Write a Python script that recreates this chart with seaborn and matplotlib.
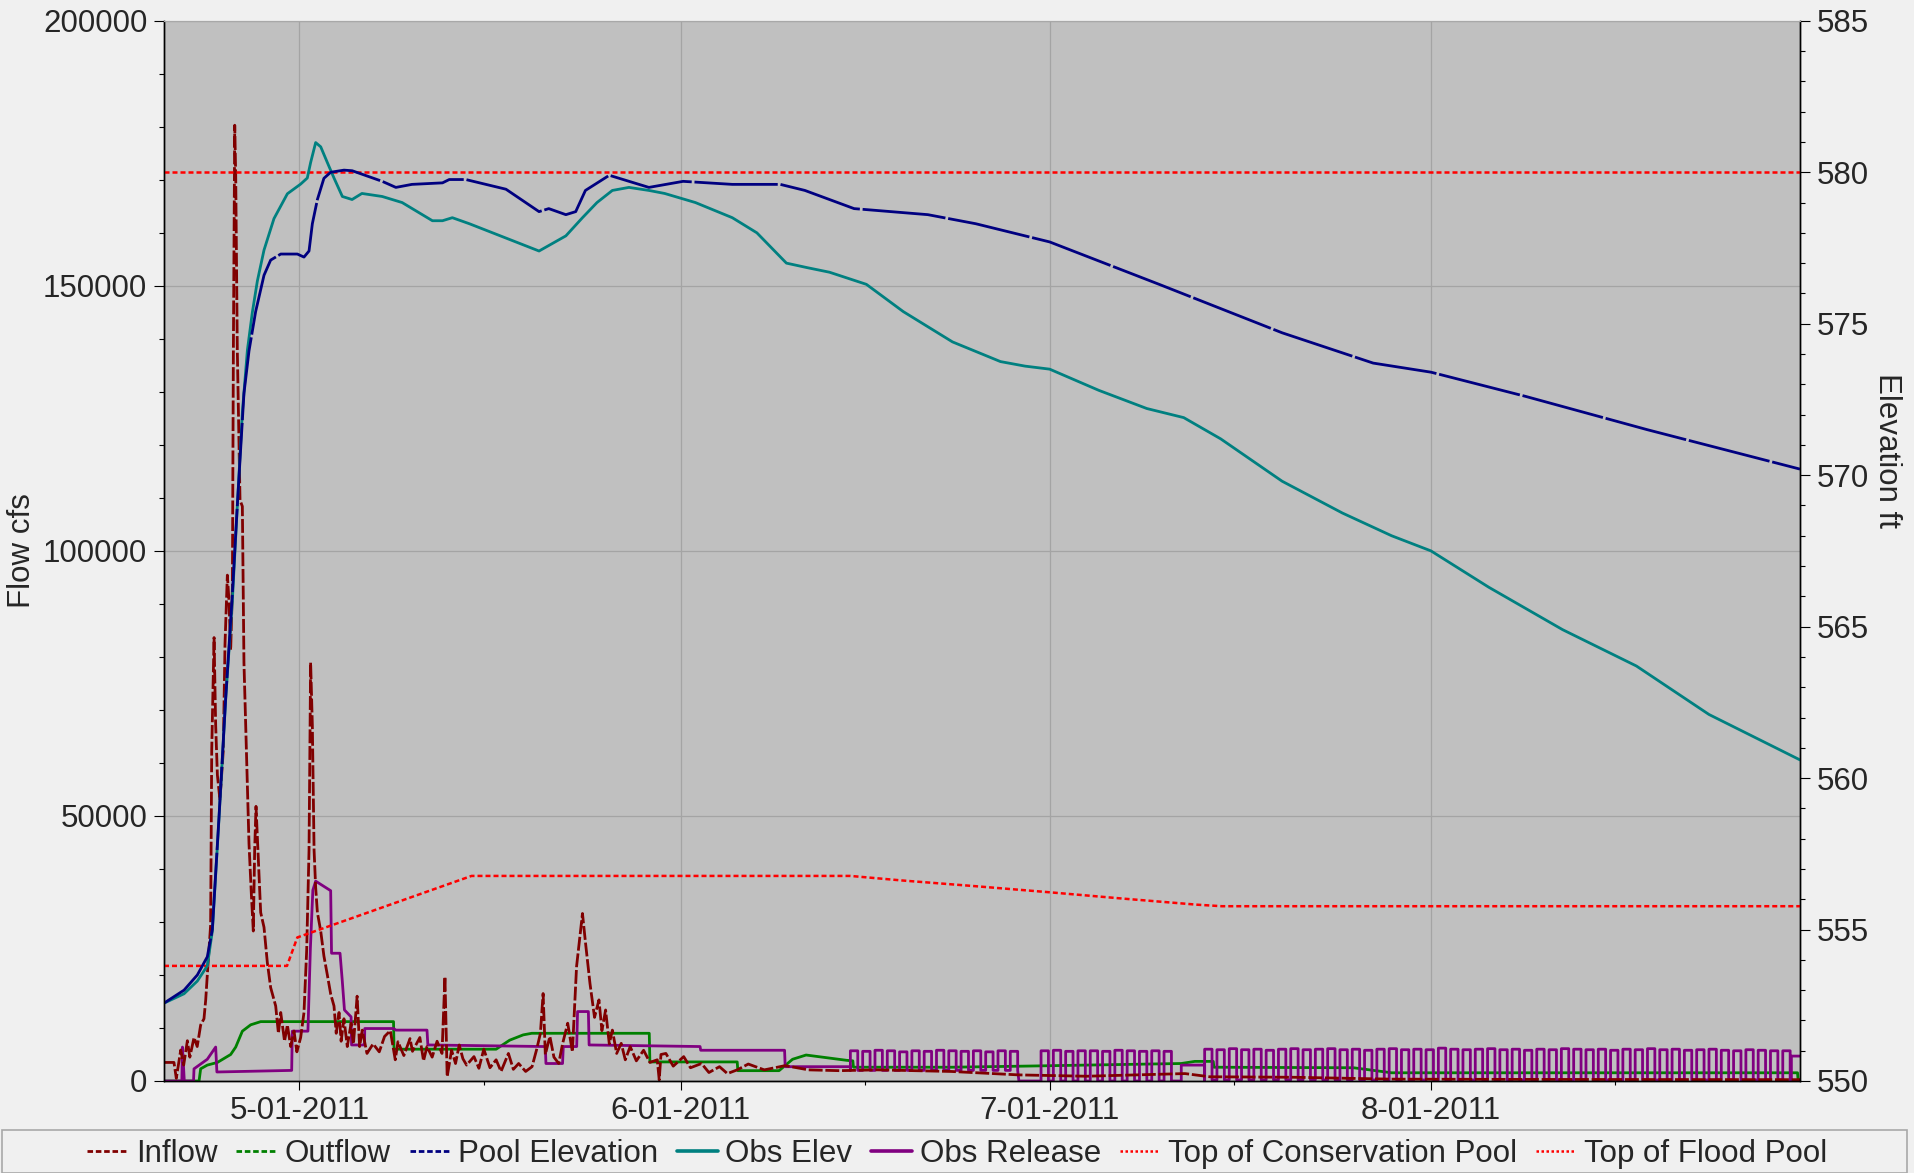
import seaborn as sns
import matplotlib
matplotlib.use("Agg")
import matplotlib.pyplot as plt
import matplotlib.dates as mdates
from matplotlib.lines import Line2D
from matplotlib.patches import Rectangle
from matplotlib.ticker import MultipleLocator, FuncFormatter
import pandas as pd

sns.set_style("ticks")
plt.rcParams["font.family"] = ["Liberation Sans", "DejaVu Sans"]

START = pd.Timestamp("2011-04-20")
END_DAY = 133.0

# all series: day offset from START
inflow_day = [0, 0.81, 1.0, 1.36, 1.6, 1.9, 2.1, 2.44, 2.7, 2.98, 3.25, 3.39, 3.52, 3.79, 3.88,
              4.07, 4.2, 4.34, 4.55, 4.82, 4.96, 5.15, 5.28, 5.42, 5.56, 5.64, 5.75, 5.83, 5.96,
              6.18, 6.37, 6.5, 6.64, 6.78, 6.91, 7.1, 7.26, 7.37, 7.48, 7.64, 7.86, 8.13, 8.4,
              8.67, 9.08, 9.3, 9.49, 9.8, 10.03, 10.3, 10.57, 10.8, 11.11, 11.38, 11.6, 11.79,
              11.92, 12.06, 12.2, 12.33, 12.47, 12.74, 13.0, 13.28, 13.55, 13.82, 14.0, 14.23,
              14.4, 14.63, 14.9, 15.21, 15.4, 15.7, 15.9, 16.12, 16.5, 17.0, 17.5, 17.93, 18.4,
              18.8, 19.02, 19.5, 20.0, 20.2, 20.8, 21.1, 21.38, 21.8, 22.2, 22.6, 22.84, 23.02,
              23.38, 23.7, 24.0, 24.3, 24.6, 25.2, 25.6, 26.0, 26.5, 27.0, 27.4, 28.0, 28.4,
              28.83, 29.4, 29.92, 30.3, 30.6, 30.82, 31.0, 31.37, 31.7, 32.09, 32.4, 32.82,
              33.2, 33.54, 34.02, 34.27, 34.63, 35.0, 35.36, 35.6, 35.9, 36.2, 36.45, 36.8,
              37.17, 37.5, 37.9, 38.4, 38.99, 39.5, 40.1, 40.26, 40.4, 40.8, 41.4, 42.25, 42.8,
              43.7, 44.3, 45.16, 45.8, 46.6, 47.5, 48.8, 50.5, 52.4, 54.9, 58.0, 64.0, 69.5,
              75.0, 83.0, 85.0, 92.0, 99.8, 110.0, 133.0]
inflow_cfs = [3500, 3500, 500, 5850, 3000, 7600, 4500, 8200, 6500, 10560, 11740, 15280, 19990,
              29420, 62430, 83650, 67140, 57710, 52990, 62430, 82470, 95430, 90720, 81290, 93080,
              137880, 180300, 170870, 137880, 109580, 108400, 78930, 67140, 55350, 44740, 35310,
              28290, 43560, 51810, 43560, 31780, 29000, 22350, 17630, 14150, 9000, 12920, 7500,
              10560, 6500, 9430, 5500, 8200, 12920, 24710, 43570, 78930, 67140, 43570, 36490,
              31780, 28290, 23580, 19990, 16410, 14150, 9000, 12920, 7500, 11740, 6500, 10900,
              7000, 16000, 6500, 9600, 5200, 7000, 5500, 8400, 9500, 4000, 7400, 4800, 8000,
              5600, 8200, 3800, 6500, 4500, 7500, 5200, 19700, 800, 5800, 3300, 6800, 4200,
              3000, 4600, 2400, 6000, 2500, 4000, 1800, 5200, 2200, 3300, 1800, 2700, 6000, 9000,
              16500, 5000, 8400, 4500, 3300, 7000, 10900, 5500, 21600, 31600, 26000, 18400,
              12000, 15300, 9500, 13400, 7000, 9600, 5200, 7100, 4000, 6500, 3800, 5800, 3500,
              4000, 200, 5000, 5200, 2800, 4600, 2500, 3300, 1600, 2700, 1400, 2100, 3200,
              2100, 2900, 2100, 1950, 2100, 1800, 1150, 900, 1400, 800, 700, 350, 300, 250]

outflow_day = [0, 2.85, 2.98, 3.52, 4.34, 5.42, 5.83, 6.37, 7.05, 7.86, 18.66, 18.7, 27.0, 28.1,
               29.2, 29.9, 39.45, 39.5, 46.6, 46.65, 50.0, 51.1, 52.2, 55.5, 56.0, 56.05, 64.0,
               69.8, 82.7, 83.8, 85.3, 85.35, 96.7, 99.8, 132.8, 132.85, 133.0]
outflow_cfs = [0, 0, 2300, 3000, 3500, 5000, 6400, 9400, 10600, 11200, 11200, 6000, 6000, 7700,
               8700, 9000, 9000, 3600, 3600, 1950, 1950, 4100, 4900, 3900, 3800, 2600, 2600,
               2800, 3300, 3700, 3700, 2600, 2500, 1550, 1550, 0, 0]

release_day = [0, 1.45, 1.5, 1.65, 2.4, 2.44, 3.52, 4.2, 4.3, 10.38, 10.43, 11.7, 11.9, 12.1,
               12.33, 13.55, 13.62, 14.31, 14.49, 14.67, 15.21, 15.25, 16.3, 16.32, 18.66, 18.85,
               21.38, 21.45, 31.0, 31.05, 32.4, 32.46, 33.55, 33.62, 34.5, 34.56, 43.58, 43.63,
               50.45, 50.5, 55.8]
release_cfs = [0, 0, 6400, 0, 0, 2300, 4100, 6400, 1700, 2000, 9400, 9400, 25000, 36000, 37700,
               35900, 24100, 24100, 19000, 13400, 12100, 6800, 6800, 9900, 9900, 9600, 9600, 6800,
               6500, 3300, 3300, 6500, 6500, 13100, 13100, 6800, 6500, 5800, 5800, 2700, 2700]
# daily release pulses (peak of each day), three runs
pulse_a_start, pulse_a_low = 55.8, 2000
pulse_a_peak = [5700, 5600, 5800, 5700, 5500, 5700, 5600, 5800, 5700, 5600, 5700, 5500, 5700, 5600]
pulse_b_start, pulse_b_low = 71.3, 0
pulse_b_peak = [5700, 5800, 5600, 5700, 5700, 5600, 5800, 5700, 5600, 5700, 5600]
pulse_c_start, pulse_c_low = 84.6, 200
pulse_c_peak = [6000, 5900, 6100, 5900, 6000, 5800, 6000, 6100, 5900, 6000, 6100, 5900,
                6000, 5800, 6000, 6100, 5900, 6000, 5900, 6200, 6000, 5900, 6000, 6100,
                5900, 6000, 5800, 6000, 5900, 6100, 6000, 5900, 6000, 5800, 6000, 5900,
                6100, 5900, 6000, 5800, 5900, 6000, 5800, 5700, 5900, 5800, 5700, 5700]

pool_day = [0, 1.63, 2.71, 3.52, 3.93, 4.47, 5.01, 5.56, 5.96, 6.5, 6.91, 7.45, 8.13, 8.67, 9.49,
            10.84, 11.38, 11.79, 12.06, 12.47, 13.0, 13.55, 14.63, 15.3, 17.74, 18.85, 20.16,
            22.64, 23.19, 24.53, 27.8, 30.49, 31.28, 32.67, 33.47, 34.26, 36.2, 39.42, 42.2,
            46.2, 50.1, 52.1, 56.1, 62.1, 66.0, 72.0, 80.9, 90.9, 98.3, 103.0, 110.7, 120.6, 133.0]
pool_ft = [552.57, 553.0, 553.5, 554.1, 555.0, 558.7, 562.6, 566.1, 569.0, 572.7, 574.1, 575.4,
           576.6, 577.1, 577.3, 577.3, 577.2, 577.4, 578.3, 579.1, 579.8, 580.0, 580.07, 580.05,
           579.7, 579.5, 579.6, 579.65, 579.76, 579.76, 579.44, 578.7, 578.8, 578.6, 578.7, 579.4,
           579.9, 579.5, 579.7, 579.6, 579.6, 579.4, 578.8, 578.6, 578.3, 577.7, 576.3, 574.7,
           573.7, 573.4, 572.6, 571.5, 570.2]

obs_day = [0, 1.63, 2.71, 3.52, 3.93, 4.47, 5.01, 5.56, 5.96, 6.37, 6.78, 7.18, 7.59, 8.13, 8.94,
           10.03, 11.11, 11.65, 11.92, 12.33, 12.74, 13.28, 13.82, 14.5, 15.29, 16.09, 17.74,
           19.36, 21.82, 22.64, 23.44, 24.83, 30.49, 32.67, 34.02, 35.2, 36.45, 37.8, 39.42, 40.7,
           43.2, 46.2, 48.2, 50.6, 52.3, 54.1, 57.1, 60.1, 64.1, 66.5, 68.0, 70.0, 72.0, 76.0,
           79.9, 82.9, 85.9, 90.9, 95.8, 99.8, 103.0, 107.7, 113.7, 119.7, 125.6, 133.0]
obs_ft = [552.57, 552.88, 553.3, 553.8, 554.95, 558.66, 562.58, 565.88, 568.98, 572.07, 574.13,
          575.37, 576.41, 577.43, 578.47, 579.29, 579.61, 579.81, 580.32, 580.98, 580.84, 580.32,
          579.81, 579.2, 579.1, 579.3, 579.2, 579.0, 578.4, 578.4, 578.5, 578.3, 577.4, 577.9,
          578.5, 579.0, 579.4, 579.5, 579.4, 579.3, 579.0, 578.5, 578.0, 577.0, 576.85, 576.7,
          576.3, 575.4, 574.4, 574.0, 573.75, 573.6, 573.5, 572.8, 572.2, 571.9, 571.2, 569.8,
          568.75, 568.0, 567.5, 566.3, 564.9, 563.7, 562.1, 560.6]

cons_day = [0, 10.0, 10.84, 25.0, 55.8, 60.0, 66.0, 72.0, 78.0, 84.0, 86.0, 133.0]
cons_ft = [553.8, 553.8, 554.74, 556.77, 556.77, 556.62, 556.43, 556.23, 556.02, 555.82, 555.77, 555.77]

flood_day = [0, 133.0]
flood_ft = [580.0, 580.0]

C_INFLOW = "#800000"
C_OUTFLOW = "#008000"
C_POOL = "#000080"
C_OBS = "#008080"
C_RELEASE = "#800080"
C_TOP = "#ff0000"


def frame(days, values):
    return pd.DataFrame({"date": START + pd.to_timedelta(days, unit="D"), "value": values})


def add_pulses(days, vals, start, peaks, low):
    for i, p in enumerate(peaks):
        d = start + i
        days += [d, d, d + 0.6, d + 0.6]
        vals += [low, p, p, low]


def date_label(v, pos):
    d = mdates.num2date(v)
    return f"{d.month}-{d.day:02d}-{d.year}"


# release = read steps + three runs of daily pulses
rel_d, rel_v = list(release_day), list(release_cfs)
add_pulses(rel_d, rel_v, pulse_a_start, pulse_a_peak, pulse_a_low)
rel_d += [69.5, 71.3]
rel_v += [0, 0]
add_pulses(rel_d, rel_v, pulse_b_start, pulse_b_peak, pulse_b_low)
rel_d += [82.7, 82.7, 84.6]
rel_v += [0, 3000, 3000]
add_pulses(rel_d, rel_v, pulse_c_start, pulse_c_peak, pulse_c_low)
rel_d += [132.3, 132.3, 133.0]
rel_v += [pulse_c_low, 4700, 4700]

fig = plt.figure(figsize=(19.15, 11.73), dpi=100, facecolor="#f0f0f0")
ax = fig.add_axes([164 / 1915, 1 - 1081 / 1173, 1636 / 1915, 1060.2 / 1173])
ax.set_facecolor("#c0c0c0")
ax2 = ax.twinx()

LW = 2.0
common = dict(x="date", y="value", sort=False, estimator=None, legend=False)
sns.lineplot(data=frame(outflow_day, outflow_cfs), ax=ax, color=C_OUTFLOW, lw=LW, **common)
sns.lineplot(data=frame(rel_d, rel_v), ax=ax, color=C_RELEASE, lw=LW, **common)
sns.lineplot(data=frame(inflow_day, inflow_cfs), ax=ax, color=C_INFLOW, lw=LW,
             linestyle=(0, (5, 1)), **common)

sns.lineplot(data=frame(cons_day, cons_ft), ax=ax2, color=C_TOP, lw=1.8,
             linestyle=(0, (2, 1.2)), **common)
sns.lineplot(data=frame(flood_day, flood_ft), ax=ax2, color=C_TOP, lw=1.8,
             linestyle=(0, (2, 1.2)), **common)
sns.lineplot(data=frame(obs_day, obs_ft), ax=ax2, color=C_OBS, lw=LW, **common)
sns.lineplot(data=frame(pool_day, pool_ft), ax=ax2, color=C_POOL, lw=LW,
             linestyle=(0, (30, 1)), **common)

ax.set_xlim(START, START + pd.Timedelta(days=END_DAY))
ax.set_ylim(0, 200000)
ax2.set_ylim(550, 585)

ax.xaxis.set_major_locator(mdates.MonthLocator())
ax.xaxis.set_minor_locator(mdates.MonthLocator(bymonthday=16))
ax.xaxis.set_major_formatter(FuncFormatter(date_label))
ax.yaxis.set_major_locator(MultipleLocator(50000))
ax.yaxis.set_minor_locator(MultipleLocator(10000))
ax.yaxis.set_major_formatter(FuncFormatter(lambda v, p: f"{v:.0f}"))
ax2.yaxis.set_major_locator(MultipleLocator(5))
ax2.yaxis.set_minor_locator(MultipleLocator(1))
ax2.yaxis.set_major_formatter(FuncFormatter(lambda v, p: f"{v:.0f}"))

ax.grid(True, which="major", color="#a4a4a4", lw=0.9)
ax2.grid(False)
ax.set_xlabel("")
ax.set_ylabel("")
ax2.set_xlabel("")
ax2.set_ylabel("")

FS = 22.5
for a in (ax, ax2):
    a.tick_params(which="major", length=7, width=0.8, labelsize=FS, pad=5, color="black")
    a.tick_params(which="minor", length=3.5, width=0.8, color="black")
    for side in ("left", "right", "bottom"):
        a.spines[side].set_color("black")
        a.spines[side].set_linewidth(1.0)
    a.spines["top"].set_color("#a8a8a8")
ax.tick_params(axis="x", which="major", length=6.5, pad=4)
ax.tick_params(axis="x", which="minor", length=3)

fig.text(22 / 1915, 1 - 551 / 1173, "Flow cfs", rotation=90, ha="center", va="center", fontsize=FS)
fig.text(1887 / 1915, 1 - 451 / 1173, "Elevation ft", rotation=270, ha="center", va="center",
         fontsize=FS)

# legend strip along the bottom
fig.patches.append(Rectangle((2 / 1915, 0), 1905 / 1915, 43 / 1173, transform=fig.transFigure,
                             facecolor="#f0f0f0", edgecolor="#a8a8a8", lw=1.2, zorder=0))
handles = [
    Line2D([], [], color=C_INFLOW, lw=LW, ls=(0, (2, 1))),
    Line2D([], [], color=C_OUTFLOW, lw=LW, ls=(0, (2, 1))),
    Line2D([], [], color=C_POOL, lw=LW, ls=(0, (2, 1))),
    Line2D([], [], color=C_OBS, lw=2.6),
    Line2D([], [], color=C_RELEASE, lw=2.6),
    Line2D([], [], color=C_TOP, lw=1.8, ls=(0, (1, 1))),
    Line2D([], [], color=C_TOP, lw=1.8, ls=(0, (1, 1))),
]
labels = ["Inflow", "Outflow", "Pool Elevation", "Obs Elev", "Obs Release",
          "Top of Conservation Pool", "Top of Flood Pool"]
fig.legend(handles, labels, loc="center", bbox_to_anchor=(0.5, 1 - 1154 / 1173), ncol=7,
           frameon=False, fontsize=FS, handlelength=1.3, handletextpad=0.25, columnspacing=0.6)

fig.savefig("out.png", dpi=100, facecolor=fig.get_facecolor())
